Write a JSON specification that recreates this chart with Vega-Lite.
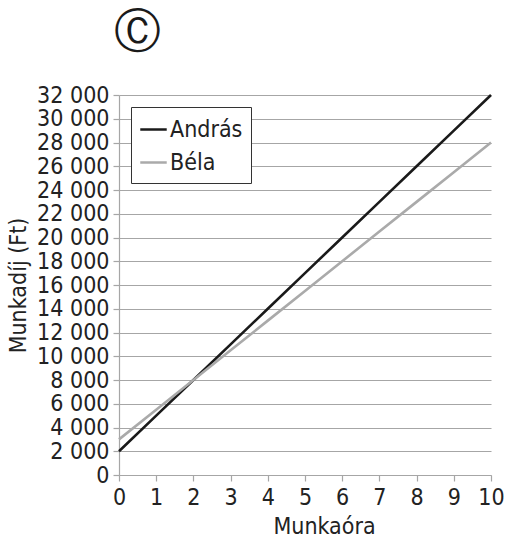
{
  "$schema": "https://vega.github.io/schema/vega-lite/v6.json",
  "width": 372,
  "height": 380,
  "padding": {"left": 7, "top": 9, "right": 5, "bottom": 5},
  "background": "white",
  "title": {
    "text": "Ⓒ",
    "anchor": "start",
    "frame": "group",
    "font": "DejaVu Sans",
    "fontSize": 47,
    "fontWeight": "normal",
    "color": "#1a1a1a",
    "offset": 27,
    "dx": -5
  },
  "config": {
    "view": {"stroke": null},
    "font": "DejaVu Sans Condensed",
    "axis": {
      "labelFont": "DejaVu Sans Condensed",
      "titleFont": "DejaVu Sans Condensed",
      "labelFontSize": 23,
      "titleFontSize": 23,
      "titleFontWeight": "normal",
      "labelColor": "#222222",
      "titleColor": "#222222",
      "gridColor": "#a6a6a6",
      "gridWidth": 1.2,
      "domainColor": "#a6a6a6",
      "domainWidth": 1.2,
      "tickColor": "#a6a6a6",
      "tickWidth": 1.2,
      "tickSize": 6,
      "labelOverlap": false
    }
  },
  "data": {
    "values": [
      {"hour": 0, "pay": 2000, "name": "András"},
      {"hour": 1, "pay": 5000, "name": "András"},
      {"hour": 2, "pay": 8000, "name": "András"},
      {"hour": 3, "pay": 11000, "name": "András"},
      {"hour": 4, "pay": 14000, "name": "András"},
      {"hour": 5, "pay": 17000, "name": "András"},
      {"hour": 6, "pay": 20000, "name": "András"},
      {"hour": 7, "pay": 23000, "name": "András"},
      {"hour": 8, "pay": 26000, "name": "András"},
      {"hour": 9, "pay": 29000, "name": "András"},
      {"hour": 10, "pay": 32000, "name": "András"},
      {"hour": 0, "pay": 3000, "name": "Béla"},
      {"hour": 1, "pay": 5500, "name": "Béla"},
      {"hour": 2, "pay": 8000, "name": "Béla"},
      {"hour": 3, "pay": 10500, "name": "Béla"},
      {"hour": 4, "pay": 13000, "name": "Béla"},
      {"hour": 5, "pay": 15500, "name": "Béla"},
      {"hour": 6, "pay": 18000, "name": "Béla"},
      {"hour": 7, "pay": 20500, "name": "Béla"},
      {"hour": 8, "pay": 23000, "name": "Béla"},
      {"hour": 9, "pay": 25500, "name": "Béla"},
      {"hour": 10, "pay": 28000, "name": "Béla"}
    ]
  },
  "mark": {"type": "line", "strokeWidth": 2.6},
  "encoding": {
    "x": {
      "field": "hour",
      "type": "quantitative",
      "title": "Munkaóra",
      "scale": {"domain": [0, 10], "nice": false},
      "axis": {
        "values": [0, 1, 2, 3, 4, 5, 6, 7, 8, 9, 10],
        "grid": false,
        "labelPadding": 5,
        "titlePadding": 6,
        "titleX": 205,
        "labelFlush": false
      }
    },
    "y": {
      "field": "pay",
      "type": "quantitative",
      "title": "Munkadíj (Ft)",
      "scale": {"domain": [0, 32000], "nice": false},
      "axis": {
        "values": [0, 2000, 4000, 6000, 8000, 10000, 12000, 14000, 16000, 18000, 20000, 22000, 24000, 26000, 28000, 30000, 32000],
        "labelExpr": "replace(format(datum.value, ','), ',', ' ')",
        "labelPadding": 4,
        "titlePadding": 6
      }
    },
    "color": {
      "field": "name",
      "type": "nominal",
      "scale": {"domain": ["András", "Béla"], "range": ["#1a1a1a", "#aaaaaa"]},
      "legend": {
        "title": null,
        "orient": "top-left",
        "offset": 12,
        "symbolType": "stroke",
        "symbolSize": 700,
        "symbolStrokeWidth": 2.5,
        "labelFont": "DejaVu Sans Condensed",
        "labelFontSize": 23,
        "labelColor": "#222222",
        "labelOffset": 2,
        "fillColor": "white",
        "strokeColor": "#333333",
        "padding": 8,
        "rowPadding": 6
      }
    }
  }
}
